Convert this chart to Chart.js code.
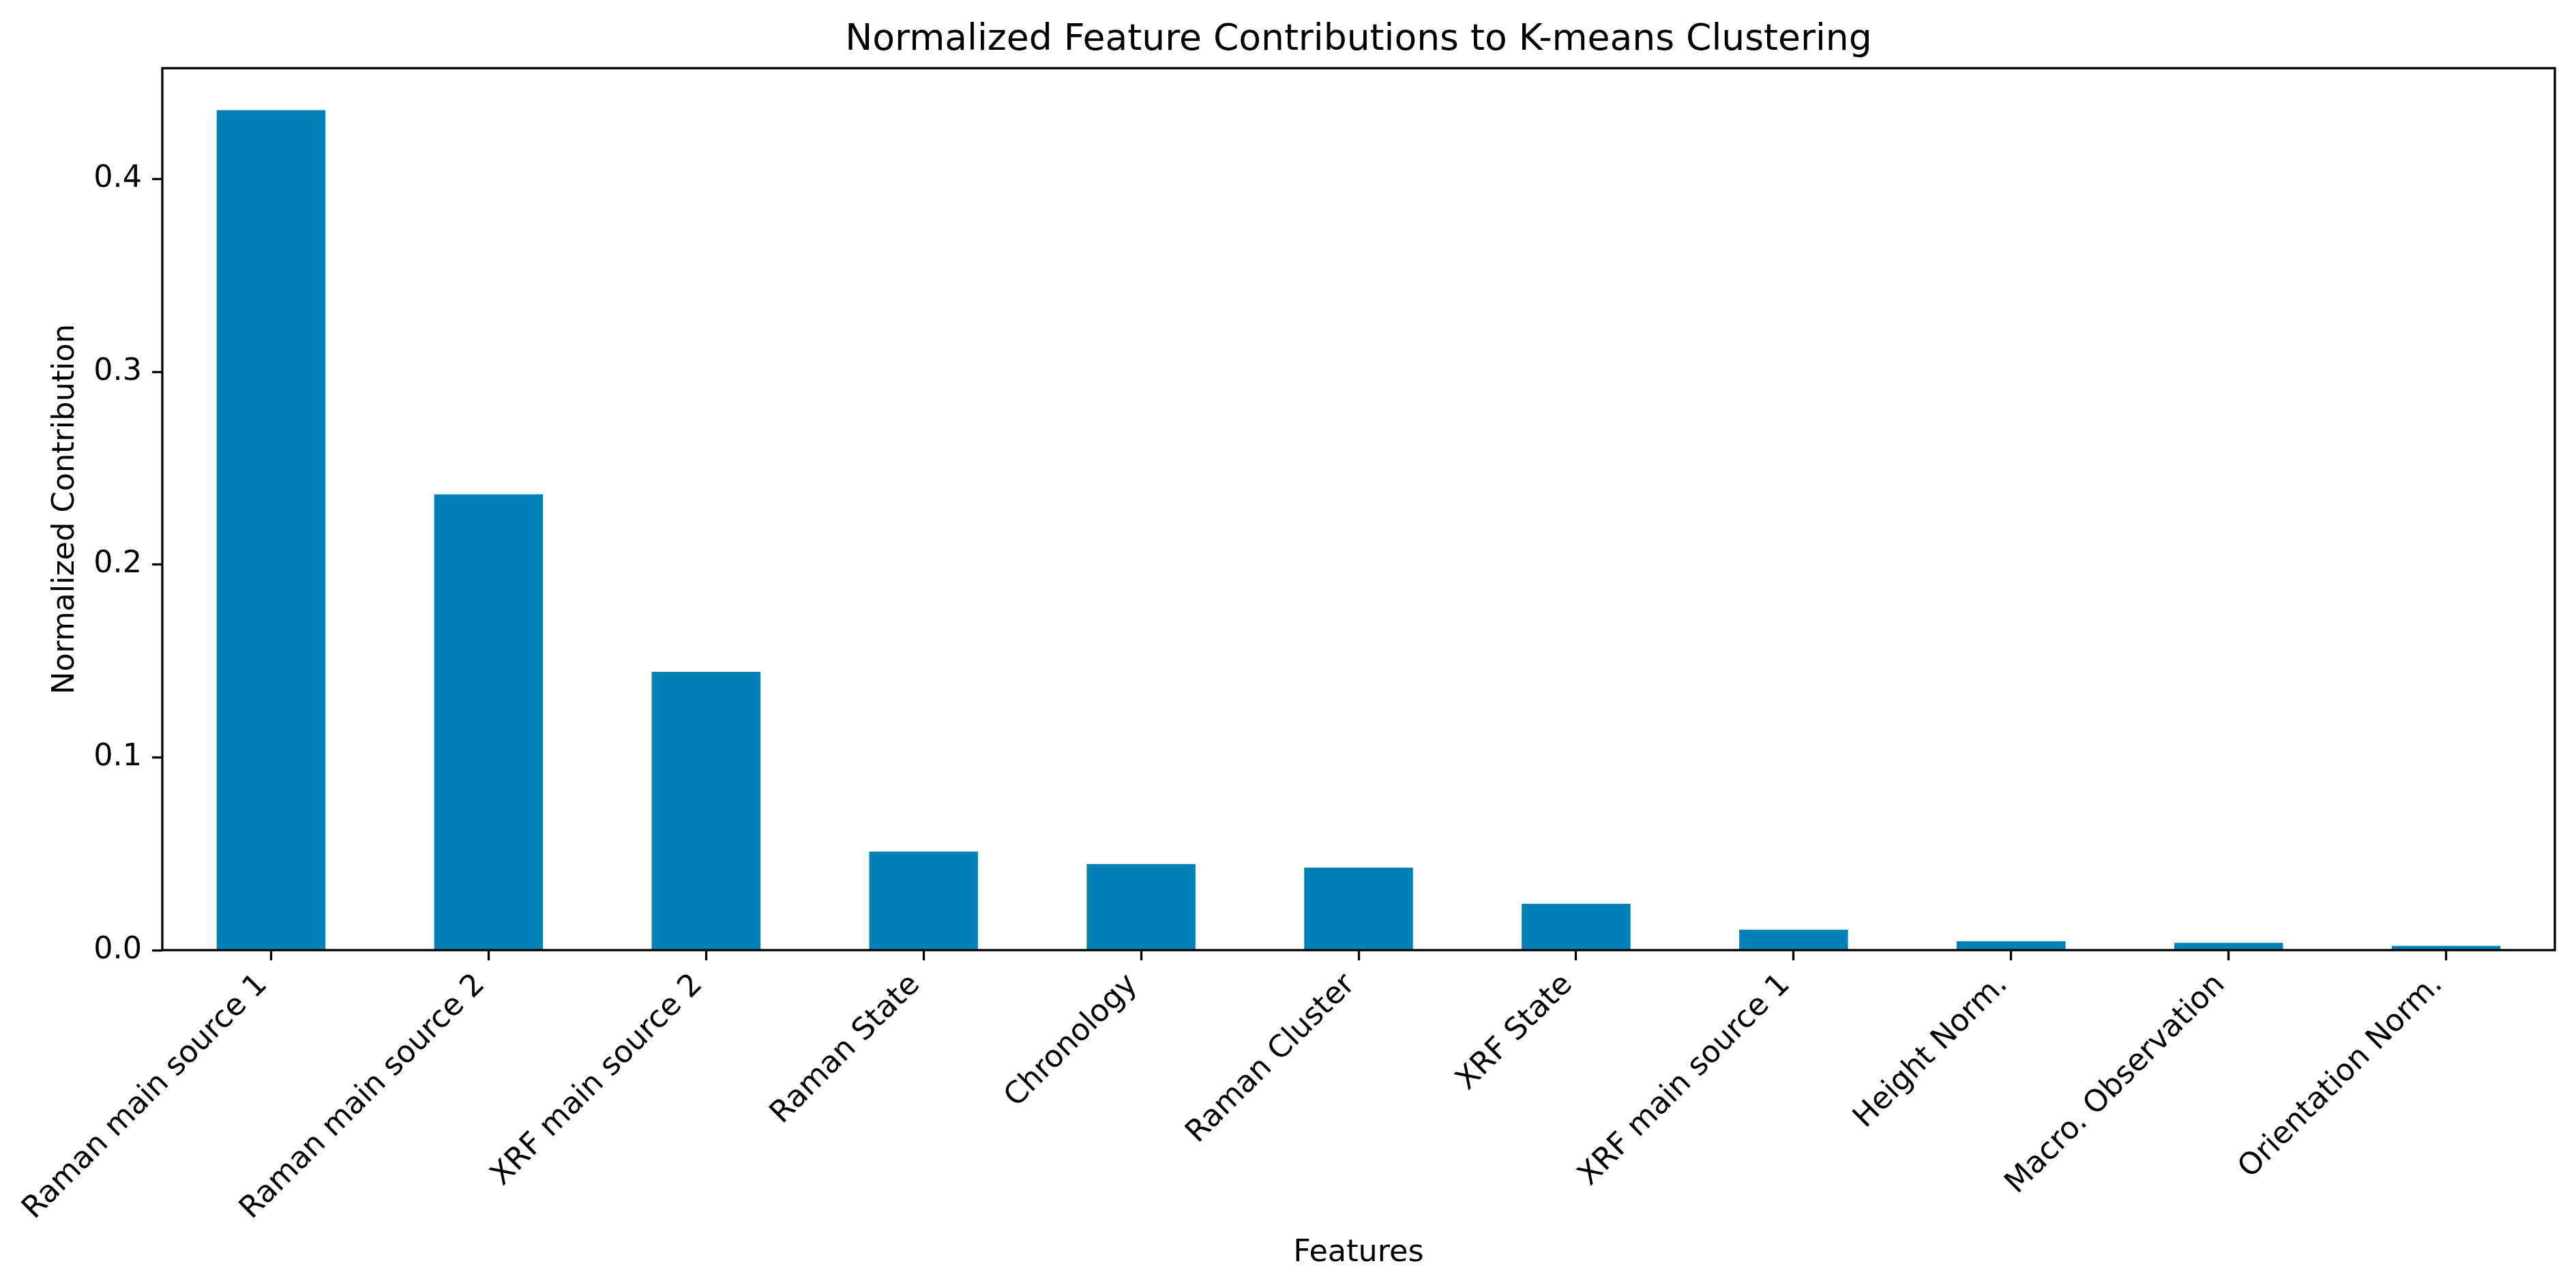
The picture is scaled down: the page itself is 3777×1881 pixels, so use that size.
<!DOCTYPE html>
<html>
<head>
<meta charset="utf-8">
<title>Normalized Feature Contributions to K-means Clustering</title>
<script src="https://cdn.jsdelivr.net/npm/chart.js@4.4.1/dist/chart.umd.min.js"></script>
<style>
  html, body { margin: 0; padding: 0; background: #fff; }
  canvas { display: block; }
</style>
</head>
<body>
<canvas id="canvas" width="3777" height="1881"></canvas>
<script>
// data
const features = [
    'Raman main source 1', 'Raman main source 2', 'XRF main source 2', 'Raman State',
    'Chronology', 'Raman Cluster', 'XRF State', 'XRF main source 1',
    'Height Norm.', 'Macro. Observation', 'Orientation Norm.'
]
const contributions = [0.4358, 0.2365, 0.1444, 0.0511, 0.0447, 0.0428, 0.0241, 0.0106, 0.0046, 0.0038, 0.0022]
const yTicks = [0.0, 0.1, 0.2, 0.3, 0.4]

const chartTitle = 'Normalized Feature Contributions to K-means Clustering'
const xLabel = 'Features'
const yLabel = 'Normalized Contribution'

document.addEventListener("DOMContentLoaded", () => {

const canvas = document.getElementById('canvas');
const ctx = canvas.getContext('2d');

Chart.defaults.font.family = "'DejaVu Sans', sans-serif"
Chart.defaults.color = '#000'

const labelSize = 44.5

// box round the plot + the title over the plot area (matplotlib style)
const framePlugin = {
    id: 'frame',
    afterDatasetsDraw(chart) {
        const { ctx, chartArea: a } = chart
        ctx.save()
        ctx.strokeStyle = '#000'
        ctx.lineWidth = 3.3
        ctx.strokeRect(a.left, a.top, a.right - a.left, a.bottom - a.top)
        ctx.restore()
    },
    afterDraw(chart) {
        const { ctx, chartArea: a } = chart
        ctx.save()
        ctx.fillStyle = '#000'
        ctx.font = "53.5px 'DejaVu Sans'"
        ctx.textAlign = 'center'
        ctx.textBaseline = 'alphabetic'
        ctx.fillText(chartTitle, (a.left + a.right) / 2, 73)
        ctx.restore()
    }
}

const myChart = new Chart(ctx, {
    type: 'bar',
    data: {
        labels: features,
        datasets: [{
            label: 'Contribution',
            data: contributions,
            backgroundColor: '#0082b7',
            borderWidth: 0,
            barPercentage: 0.5,
            categoryPercentage: 1.0
        }]
    },
    options: {
        responsive: false,
        animation: false,
        layout: { padding: { top: 100, left: 0, right: 31, bottom: 0 } },
        plugins: {
            legend: { display: false },
            tooltip: { enabled: false },
            title: { display: false }
        },
        scales: {
            x: {
                offset: true,
                grid: {
                    offset: false,
                    drawOnChartArea: false,
                    drawTicks: true,
                    tickLength: 15,
                    tickWidth: 3.3,
                    tickColor: '#000'
                },
                border: { display: false },
                ticks: {
                    autoSkip: false,
                    minRotation: 45,
                    maxRotation: 45,
                    padding: 10,
                    labelOffset: -12,
                    font: { size: labelSize }
                },
                title: {
                    display: true,
                    text: xLabel,
                    font: { size: labelSize },
                    padding: { top: 0, bottom: 17 }
                },
                afterFit(scale) { scale.height = 488 }
            },
            y: {
                min: 0,
                max: Math.max(...contributions) * 1.05, // matplotlib's 5% margin
                grid: {
                    drawOnChartArea: false,
                    drawTicks: true,
                    tickLength: 15,
                    tickWidth: 3.3,
                    tickColor: '#000'
                },
                border: { display: false },
                afterBuildTicks(scale) { scale.ticks = yTicks.map(v => ({ value: v })) },
                ticks: {
                    padding: 15,
                    font: { size: labelSize },
                    callback: (v) => Number(v).toFixed(1)
                },
                title: {
                    display: true,
                    text: yLabel,
                    font: { size: labelSize },
                    padding: { top: 70, bottom: 0 }
                },
                afterFit(scale) { scale.width = 238 }
            }
        }
    },
    plugins: [framePlugin]
})

})
</script>
</body>
</html>
